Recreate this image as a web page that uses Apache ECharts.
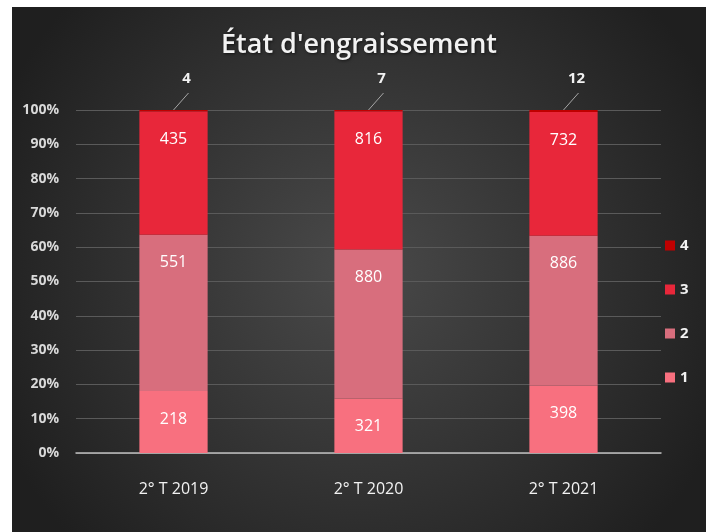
<!DOCTYPE html>
<html>
<head>
<meta charset="utf-8">
<script src="https://cdn.jsdelivr.net/npm/echarts@6/dist/echarts.min.js"></script>
<style>
  html, body { margin: 0; padding: 0; background: #ffffff; }
  #chart { position: absolute; left: 12px; top: 7px; width: 694px; height: 525px; }
</style>
</head>
<body>
<div id="chart"></div>
<script>
var categories = ["2° T 2019", "2° T 2020", "2° T 2021"];
var serie1 = [218, 321, 398];
var serie2 = [551, 880, 886];
var serie3 = [435, 816, 732];
var serie4 = [4, 7, 12];
var seriesNames = ["1", "2", "3", "4"];
var colors = ["#f8707f", "#d86e7d", "#e8273a", "#c00000"];
var yTicks = [0, 10, 20, 30, 40, 50, 60, 70, 80, 90, 100];

var raw = [serie1, serie2, serie3, serie4];
var totals = categories.map(function(c, i){
    return serie1[i] + serie2[i] + serie3[i] + serie4[i];
});

var myChart = echarts.init(document.getElementById("chart"));

var series = raw.map(function(values, s){
    return {
        name: seriesNames[s],
        type: "bar",
        stack: "total",
        barWidth: "35%",
        itemStyle: { color: colors[s] },
        data: values.map(function(v, i){
            return { value: v / totals[i] * 100, raw: v };
        }),
        label: {
            show: s != 3,
            position: "insideTop",
            distance: 20,
            color: "#ffffff",
            fontSize: 16,
            fontFamily: "Open Sans",
            formatter: function(p){ return p.data.raw; }
        }
    };
});

// labels of the thin top segment, with a slanted leader line
series.push({
    type: "custom",
    name: "labels4",
    silent: true,
    data: serie4.map(function(v, i){ return [i, 100, v]; }),
    renderItem: function(params, api){
        var p = api.coord([api.value(0), api.value(1)]);
        return {
            type: "group",
            children: [{
                type: "line",
                shape: { x1: p[0], y1: p[1], x2: p[0] + 15, y2: p[1] - 17 },
                style: { stroke: "#a6a6a6", lineWidth: 1 }
            }, {
                type: "text",
                x: p[0] + 13,
                y: p[1] - 31,
                style: {
                    text: String(api.value(2)),
                    fill: "#f2f2f2",
                    fontSize: 15,
                    fontWeight: "bold",
                    fontFamily: "Open Sans",
                    align: "center",
                    verticalAlign: "middle"
                }
            }]
        };
    }
});

var option = {
    backgroundColor: {
        type: "radial", x: 0.5, y: 0.5, r: 0.75,
        colorStops: [
            { offset: 0, color: "#4a4a4a" },
            { offset: 1, color: "#1f1f1f" }
        ]
    },
    animation: false,
    title: {
        text: "État d'engraissement",
        left: "center",
        top: 20,
        textStyle: {
            color: "#f2f2f2",
            fontSize: 27,
            fontWeight: "600",
            fontFamily: "Open Sans",
            textShadowColor: "rgba(0,0,0,0.6)",
            textShadowBlur: 3,
            textShadowOffsetX: 1,
            textShadowOffsetY: 1
        }
    },
    legend: {
        data: ["4", "3", "2", "1"],
        orient: "vertical",
        left: 648,
        top: 226,
        itemWidth: 10,
        itemHeight: 10,
        itemGap: 29,
        icon: "rect",
        textStyle: { color: "#f2f2f2", fontSize: 15, fontWeight: "bold", fontFamily: "Open Sans" }
    },
    grid: { left: 64, right: 45, top: 103, bottom: 79 },
    xAxis: {
        type: "category",
        data: categories,
        axisTick: { show: false },
        axisLine: { lineStyle: { color: "#bfbfbf", width: 1.5 } },
        axisLabel: { color: "#f2f2f2", fontSize: 16, fontWeight: "500", margin: 28, fontFamily: "Open Sans" }
    },
    yAxis: {
        type: "value",
        min: yTicks[0],
        max: yTicks[yTicks.length - 1],
        interval: 10,
        axisLine: { show: false },
        axisTick: { show: false },
        splitLine: { lineStyle: { color: "#5a5a5a", width: 1 } },
        axisLabel: {
            color: "#d9d9d9",
            fontSize: 14,
            fontWeight: "bold",
            fontFamily: "Open Sans",
            margin: 17,
            formatter: "{value}%"
        }
    },
    series: series
};
myChart.setOption(option);
</script>
</body>
</html>
